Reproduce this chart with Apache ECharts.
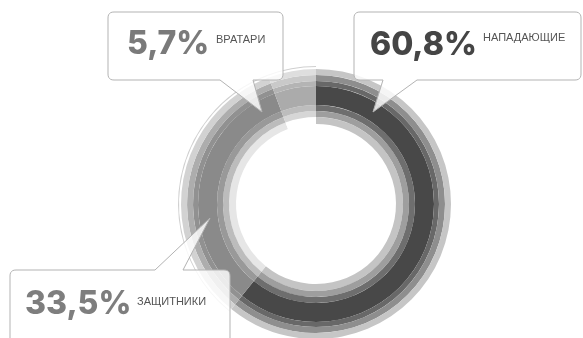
<!DOCTYPE html>
<html>
<head>
<meta charset="utf-8">
<script src="https://cdn.jsdelivr.net/npm/echarts@6/dist/echarts.min.js"></script>
<style>
  html, body { margin: 0; padding: 0; background: #ffffff; }
  #chart { width: 583px; height: 338px; }
</style>
</head>
<body>
<div id="chart"></div>
<script>
// Squad composition by playing position, share of players in percent
const categories = ['НАПАДАЮЩИЕ', 'ЗАЩИТНИКИ', 'ВРАТАРИ'];
const shares = [60.8, 33.5, 5.7];

// Concentric bands of the ring, inner to outer, in px
const bandRadii = [[80, 87], [87, 93], [93, 99], [99, 118], [118, 123], [123, 129], [129, 135]];
// Shade of each band for each slice (same order as categories)
const bandShades = [
  ['#c4c4c4', '#9e9e9e', '#6e6e6e', '#484848', '#686868', '#8e8e8e', '#c6c6c6'],
  ['#e6e6e6', '#bcbcbc', '#999999', '#8a8a8a', '#919191', '#adadad', '#d2d2d2'],
  ['#ffffff', '#d6d6d6', '#bdbdbd', '#ababab', '#b4b4b4', '#c9c9c9', '#dedede']
];
const numberColors = ['#454545', '#7e7e7e', '#7a7a7a'];

const chart = echarts.init(document.getElementById('chart'), null, { renderer: 'canvas' });
const center = [316, 204];

function ringSeries(radius, colorOf) {
  return {
    type: 'pie',
    center: center,
    radius: radius,
    startAngle: 90,
    clockwise: true,
    silent: true,
    animation: false,
    label: { show: false },
    labelLine: { show: false },
    emphasis: { disabled: true },
    data: shares.map((v, j) => ({
      value: v,
      name: categories[j],
      itemStyle: { color: colorOf(j), borderWidth: 0 }
    }))
  };
}

const series = bandRadii.map((r, i) => ringSeries(r, j => bandShades[j][i]));
// thin outline running outside the two lighter slices
series.push(ringSeries([137, 138], j => (j === 0 ? 'rgba(0,0,0,0)' : '#d0d0d0')));

const fmt = v => v.toFixed(1).replace('.', ',') + '%';

// Outline of a speech bubble: points given clockwise, each with a corner radius
function bubblePoints(corners) {
  const pts = [];
  const n = corners.length;
  corners.forEach((c, i) => {
    const [x, y, r] = c;
    if (!r) { pts.push([x, y]); return; }
    const prev = corners[(i - 1 + n) % n];
    const next = corners[(i + 1) % n];
    const d1 = Math.hypot(prev[0] - x, prev[1] - y);
    const d2 = Math.hypot(next[0] - x, next[1] - y);
    const a = [x + (prev[0] - x) / d1 * r, y + (prev[1] - y) / d1 * r];
    const b = [x + (next[0] - x) / d2 * r, y + (next[1] - y) / d2 * r];
    for (let k = 0; k <= 6; k++) {
      const t = k / 6;
      const u = 1 - t;
      pts.push([u * u * a[0] + 2 * u * t * x + t * t * b[0],
                u * u * a[1] + 2 * u * t * y + t * t * b[1]]);
    }
  });
  return pts;
}

// callout bubbles: outline corners, number baseline position, caption position
const callouts = [
  {
    idx: 0,
    corners: [[354, 12, 6], [581, 12, 6], [581, 80, 6], [417, 80, 0], [373, 112, 0], [383, 80, 0], [354, 80, 6]],
    num: [370, 57], cap: [483, 32]
  },
  {
    idx: 2,
    corners: [[108, 12, 6], [283, 12, 6], [283, 80, 6], [253, 80, 0], [262, 112, 0], [220, 80, 0], [108, 80, 6]],
    num: [127, 56], cap: [216, 34]
  },
  {
    idx: 1,
    corners: [[10, 270, 6], [155, 270, 0], [210, 218, 0], [183, 270, 0], [230, 270, 6], [230, 350, 0], [10, 350, 0]],
    num: [25, 316], cap: [137, 296]
  }
];

const graphic = [];
callouts.forEach(c => {
  graphic.push({
    type: 'polygon',
    shape: { points: bubblePoints(c.corners) },
    style: { fill: 'rgba(255,255,255,0.82)', stroke: '#b3b3b3', lineWidth: 1 },
    z: 10, silent: true
  });
  graphic.push({
    type: 'text',
    x: c.num[0], y: c.num[1] - 12,
    style: {
      text: fmt(shares[c.idx]),
      font: '800 32px Inter',
      fill: numberColors[c.idx],
      verticalAlign: 'middle'
    },
    z: 11, silent: true
  });
  graphic.push({
    type: 'text',
    x: c.cap[0], y: c.cap[1],
    style: {
      text: categories[c.idx],
      font: '11px "Liberation Sans"',
      fill: '#555555',
      verticalAlign: 'top'
    },
    z: 11, silent: true
  });
});

chart.setOption({
  backgroundColor: '#ffffff',
  animation: false,
  series: series,
  graphic: graphic
});
</script>
</body>
</html>
